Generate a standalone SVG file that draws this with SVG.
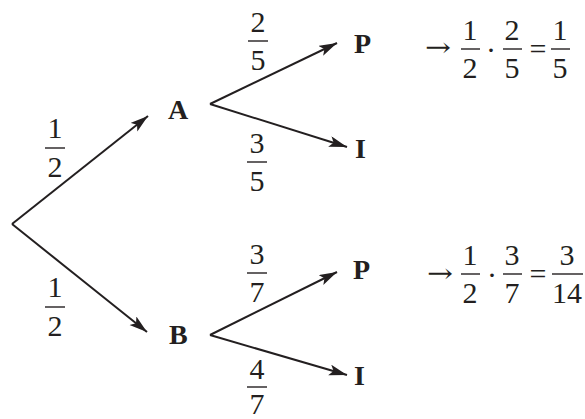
<svg xmlns="http://www.w3.org/2000/svg" width="585" height="419" viewBox="0 0 585 419">
<style>
.l{font-family:"Liberation Serif","Times New Roman",serif;font-weight:bold;font-size:28px;fill:#231f20}
.d{font-family:"Liberation Serif","Times New Roman",serif;font-size:30px;fill:#231f20;text-anchor:middle}
.ar{font-family:"DejaVu Serif",serif;font-size:26px;fill:#231f20;text-anchor:middle}
.bar{stroke:#231f20;stroke-width:1.4}
.e{stroke:#231f20;stroke-width:2;fill:none;marker-end:url(#ah)}
</style>
<defs>
<marker id="ah" markerUnits="userSpaceOnUse" markerWidth="20" markerHeight="12" refX="18" refY="5.5" orient="auto">
<path d="M0,0 L18,5.5 L0,11 L4,5.5 z" fill="#231f20"/>
</marker>
</defs>
<rect width="585" height="419" fill="#fff"/>
<g id="connectors">
<path class="e" d="M12,224 L148,116"/>
<path class="e" d="M12,224 L147,332"/>
<path class="e" d="M210,104 L337,43"/>
<path class="e" d="M210,104 L347,147"/>
<path class="e" d="M210,335 L337,272"/>
<path class="e" d="M210,335 L347,375"/>
</g>
<g id="labels">
<g id="p-root-A"><text class="d" x="55" y="138">1</text><line class="bar" x1="45" y1="148" x2="65" y2="148"/><text class="d" x="55" y="177">2</text></g>
<g id="p-root-B"><text class="d" x="55" y="297">1</text><line class="bar" x1="45" y1="307" x2="65" y2="307"/><text class="d" x="55" y="336">2</text></g>
<g id="p-A-P"><text class="d" x="258" y="32">2</text><line class="bar" x1="248" y1="41" x2="268" y2="41"/><text class="d" x="258" y="70">5</text></g>
<g id="p-A-I"><text class="d" x="257" y="153">3</text><line class="bar" x1="247" y1="162" x2="267" y2="162"/><text class="d" x="257" y="191">5</text></g>
<g id="p-B-P"><text class="d" x="257" y="264">3</text><line class="bar" x1="247" y1="273" x2="267" y2="273"/><text class="d" x="257" y="302">7</text></g>
<g id="p-B-I"><text class="d" x="257" y="379">4</text><line class="bar" x1="247" y1="387" x2="267" y2="387"/><text class="d" x="257" y="414">7</text></g>
</g>
<g id="node-A"><text class="l" x="168" y="119">A</text></g>
<g id="node-B"><text class="l" x="169" y="344">B</text></g>
<g id="node-AP"><text class="l" x="354" y="53">P</text></g>
<g id="node-AI"><text class="l" x="355" y="158">I</text></g>
<g id="node-BP"><text class="l" x="353" y="279">P</text></g>
<g id="node-BI"><text class="l" x="354" y="385">I</text></g>
<g id="eq1">
<text class="ar" x="438" y="56" textLength="26" lengthAdjust="spacingAndGlyphs">→</text>
<text class="d" x="470" y="40">1</text><line class="bar" x1="461" y1="49" x2="480" y2="49"/><text class="d" x="470" y="78">2</text>
<text class="d" x="491" y="60">·</text>
<text class="d" x="512" y="40">2</text><line class="bar" x1="503" y1="49" x2="522" y2="49"/><text class="d" x="512" y="78">5</text>
<text class="d" x="538" y="59">=</text>
<text class="d" x="560" y="40">1</text><line class="bar" x1="551" y1="49" x2="570" y2="49"/><text class="d" x="560" y="78">5</text>
</g>
<g id="eq2">
<text class="ar" x="440" y="282" textLength="26" lengthAdjust="spacingAndGlyphs">→</text>
<text class="d" x="470" y="265">1</text><line class="bar" x1="461" y1="274" x2="480" y2="274"/><text class="d" x="470" y="303">2</text>
<text class="d" x="492" y="285">·</text>
<text class="d" x="512" y="265">3</text><line class="bar" x1="503" y1="274" x2="522" y2="274"/><text class="d" x="512" y="303">7</text>
<text class="d" x="538" y="284">=</text>
<text class="d" x="567" y="265">3</text><line class="bar" x1="552" y1="274" x2="583" y2="274"/><text class="d" x="567" y="303">14</text>
</g>
</svg>
